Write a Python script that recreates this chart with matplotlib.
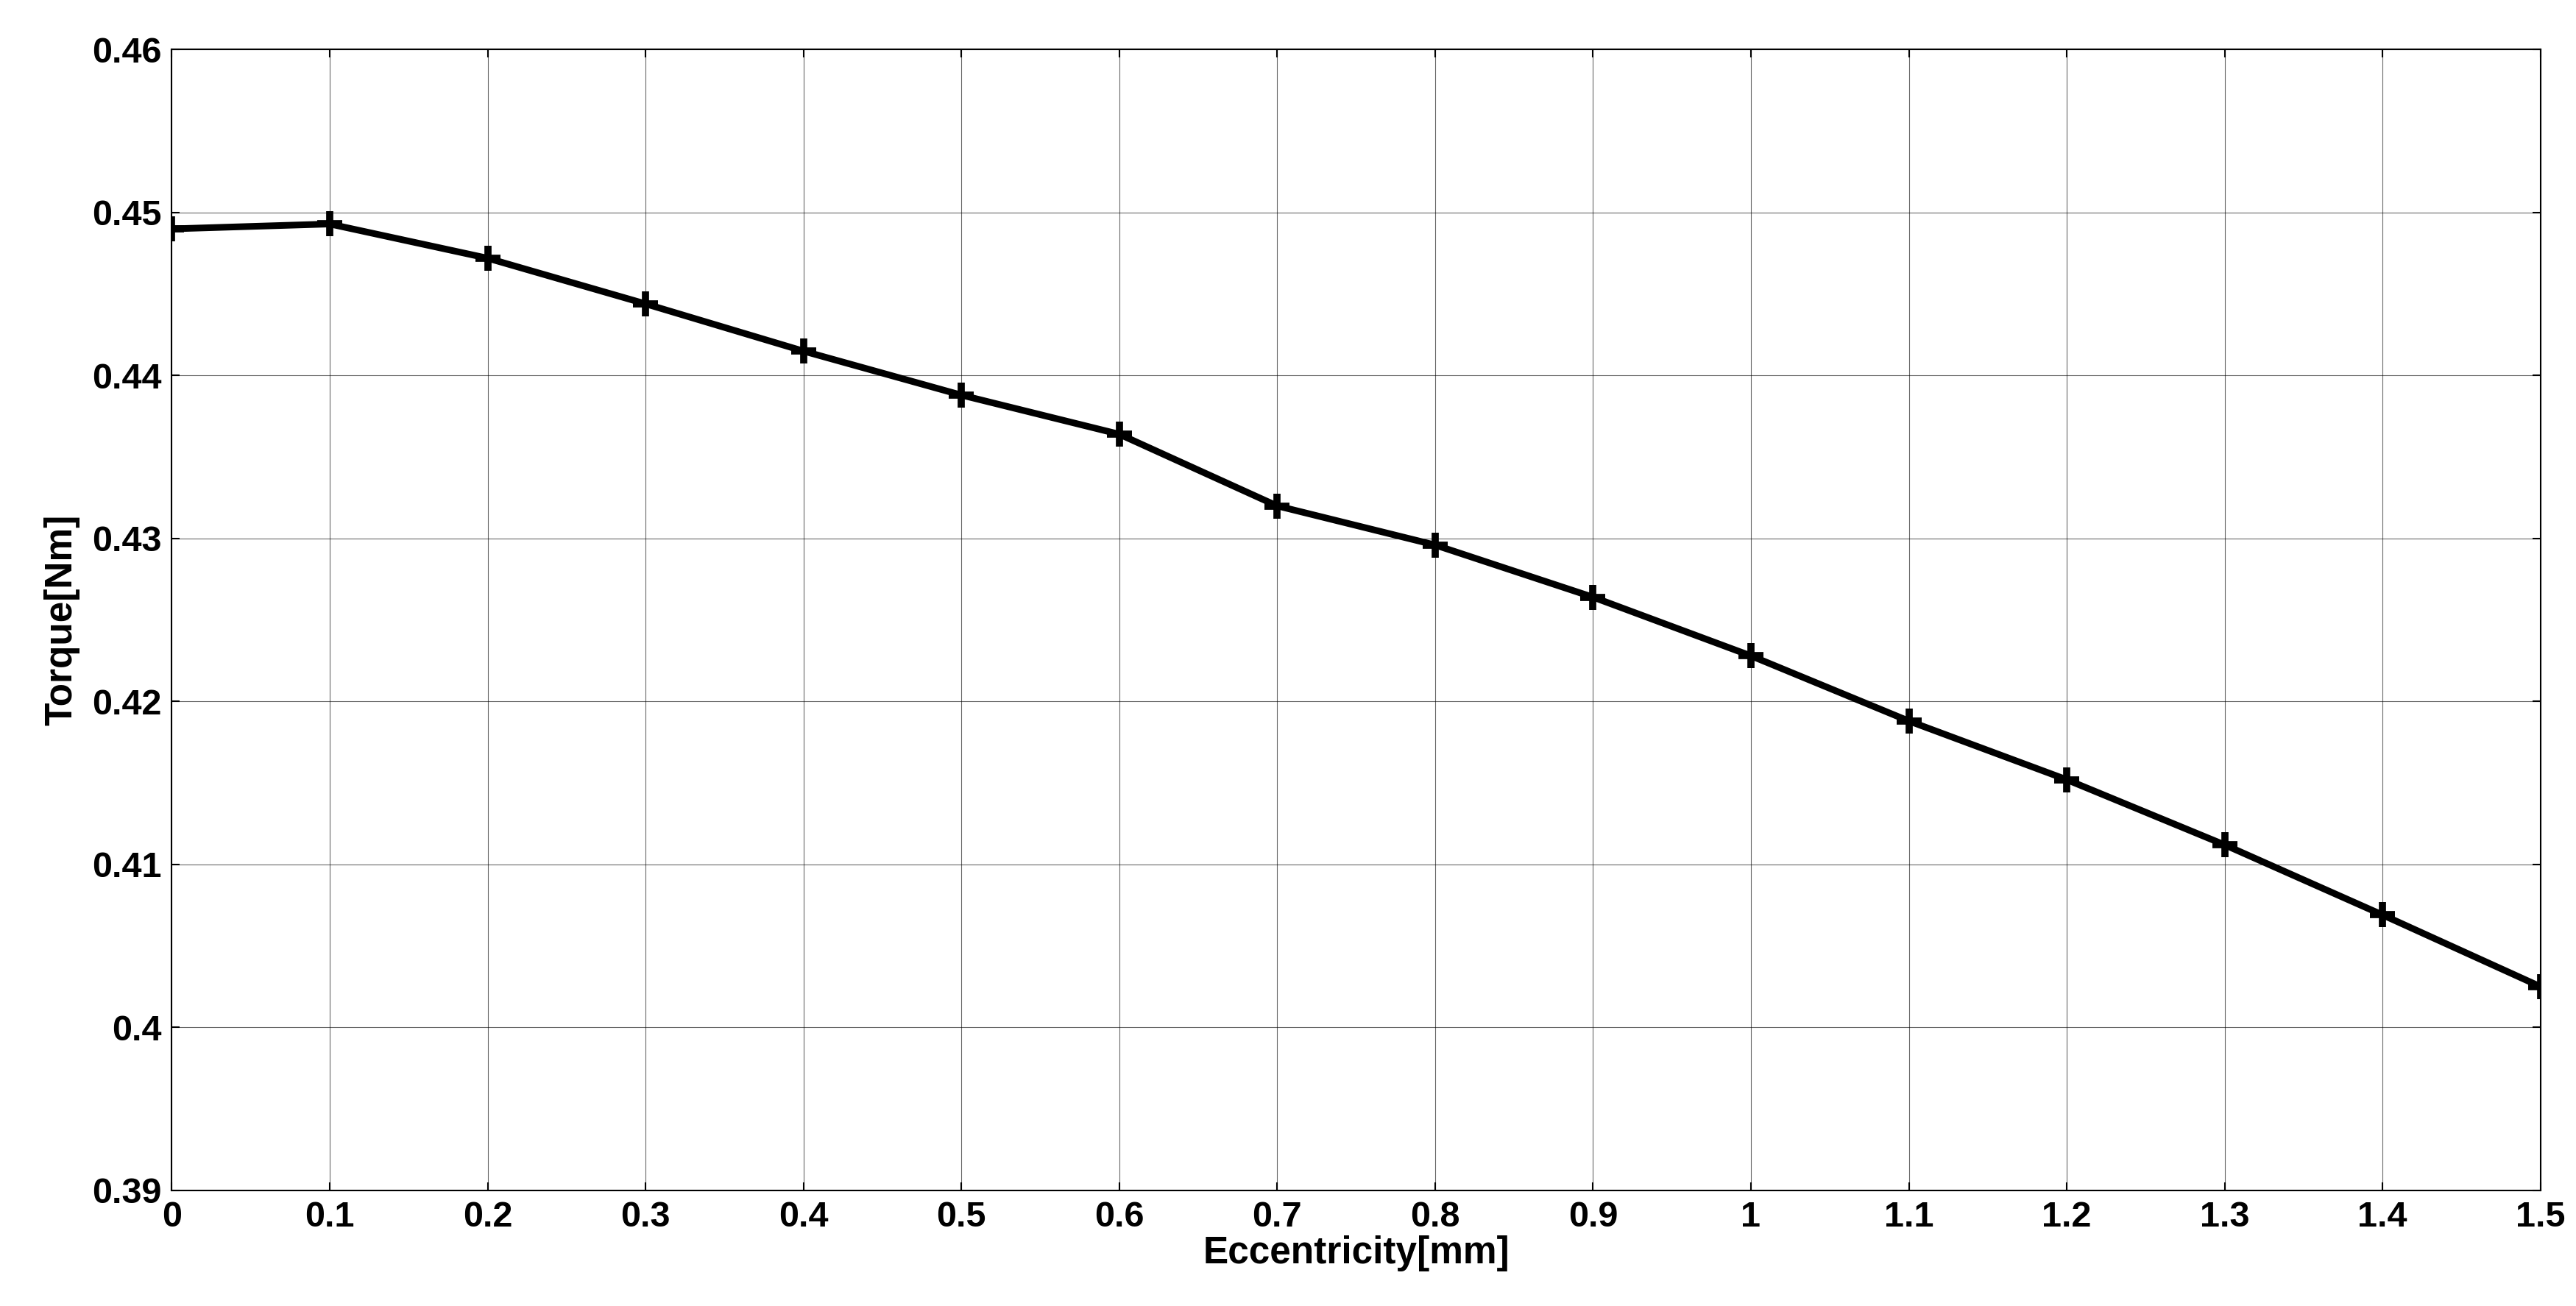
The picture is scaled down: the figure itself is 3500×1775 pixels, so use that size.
import matplotlib.pyplot as plt
import numpy as np

plt.rcParams['font.family'] = ['Liberation Sans', 'DejaVu Sans']
plt.rcParams['font.weight'] = 'bold'

eccentricity = [0, 0.1, 0.2, 0.3, 0.4, 0.5, 0.6, 0.7, 0.8, 0.9, 1.0, 1.1, 1.2, 1.3, 1.4, 1.5]
torque = [0.4490, 0.4493, 0.4472, 0.4444, 0.4415, 0.4388, 0.4364, 0.4320, 0.4296,
          0.4264, 0.4228, 0.4188, 0.4152, 0.4112, 0.4069, 0.4025]
xticks = [0, 0.1, 0.2, 0.3, 0.4, 0.5, 0.6, 0.7, 0.8, 0.9, 1, 1.1, 1.2, 1.3, 1.4, 1.5]
xticklabels = ["0", "0.1", "0.2", "0.3", "0.4", "0.5", "0.6", "0.7", "0.8", "0.9",
               "1", "1.1", "1.2", "1.3", "1.4", "1.5"]
yticks = [0.39, 0.40, 0.41, 0.42, 0.43, 0.44, 0.45, 0.46]
yticklabels = ["0.39", "0.4", "0.41", "0.42", "0.43", "0.44", "0.45", "0.46"]

fig = plt.figure(figsize=(35, 17.75), dpi=100)
ax = fig.add_axes([0.0667, 0.0886, 0.9195, 0.8734])

ax.plot(eccentricity, torque, color="black", linewidth=6.5, marker="+",
        markersize=24, markeredgewidth=7)

ax.set_xlim(0, 1.5)
ax.set_ylim(0.39, 0.46)
ax.set_xticks(xticks)
ax.set_xticklabels(xticklabels)
ax.set_yticks(yticks)
ax.set_yticklabels(yticklabels)
ax.grid(True, color="black", linewidth=0.8, alpha=0.6)
ax.tick_params(direction="in", top=True, right=True, length=8, width=1.5,
               labelsize=35, pad=10)
for s in ax.spines.values():
    s.set_linewidth(1.5)

ax.set_xlabel("Eccentricity[mm]", fontsize=37, fontweight="bold", labelpad=2)
ax.set_ylabel("Torque[Nm]", fontsize=37, fontweight="bold", labelpad=12)

fig.savefig("out.png", dpi=100)
